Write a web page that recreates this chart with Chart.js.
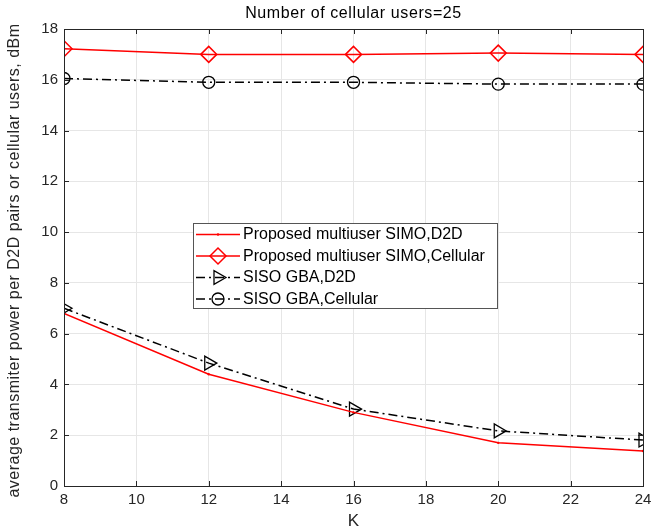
<!DOCTYPE html>
<html><head><meta charset="utf-8">
<script src="https://cdn.jsdelivr.net/npm/chart.js@4/dist/chart.umd.min.js"></script>
<style>html,body{margin:0;padding:0;background:#fff}#wrap{width:668px;height:531px}</style>
</head><body><div id="wrap"><canvas id="c" width="668" height="531"></canvas></div>
<script>
const K = [8, 12, 16, 20, 24];
const simoD2D = [6.8, 4.4, 2.9, 1.7, 1.38];
const simoCell = [17.22, 17.0, 17.0, 17.05, 17.0];
const sisoD2D = [7.0, 4.84, 3.03, 2.17, 1.81];
const sisoCell = [16.05, 15.9, 15.9, 15.83, 15.83];
const seriesNames = ['Proposed multiuser SIMO,D2D', 'Proposed multiuser SIMO,Cellular', 'SISO GBA,D2D', 'SISO GBA,Cellular'];
const titleText = 'Number of cellular users=25';
const xLabel = 'K';
const yLabel = 'average transmiter power per D2D pairs or cellular users, dBm';

const FONT = '"Liberation Sans", Arial, Helvetica, sans-serif';
const RED = '#ff0000', BLK = '#000000';
const DASHDOT = [9, 4, 2, 4];
const pts = arr => K.map((k, i) => ({x: k, y: arr[i]}));

const datasets = [
  {label: seriesNames[0], data: pts(simoD2D), borderColor: RED, backgroundColor: RED, borderWidth: 1.5, pointStyle: 'circle', pointRadius: 1.2, pointBorderWidth: 0, pointBackgroundColor: RED, pointBorderColor: RED},
  {label: seriesNames[1], data: pts(simoCell), borderColor: RED, borderWidth: 1.5, pointStyle: 'rectRot', pointRadius: 8, pointBorderWidth: 1.5, pointBackgroundColor: 'rgba(0,0,0,0)', pointBorderColor: RED},
  {label: seriesNames[2], data: pts(sisoD2D), borderColor: BLK, borderWidth: 1.5, borderDash: DASHDOT, pointStyle: 'triangle', pointRotation: 90, pointRadius: 8, pointBorderWidth: 1.3, pointBackgroundColor: 'rgba(0,0,0,0)', pointBorderColor: BLK},
  {label: seriesNames[3], data: pts(sisoCell), borderColor: BLK, borderWidth: 1.5, borderDash: DASHDOT, pointStyle: 'circle', pointRadius: 6, pointBorderWidth: 1.3, pointBackgroundColor: 'rgba(0,0,0,0)', pointBorderColor: BLK}
];

function spacedText(ctx, txt, x, y, spacing) {
  try { ctx.letterSpacing = spacing + 'px'; } catch (e) {}
  ctx.fillText(txt, x, y);
  try { ctx.letterSpacing = '0px'; } catch (e) {}
}

const boxPlugin = {
  id: 'boxPlugin',
  afterDraw(chart) {
    const ctx = chart.ctx, a = chart.chartArea;
    const xs = chart.scales.x, ys = chart.scales.y;
    ctx.save();
    ctx.strokeStyle = '#262626'; ctx.lineWidth = 1; ctx.setLineDash([]);
    ctx.strokeRect(a.left + 0.5, a.top + 0.5, a.right - a.left, a.bottom - a.top);
    ctx.beginPath();
    for (let v = 8; v <= 24; v += 2) {
      const px = Math.round(xs.getPixelForValue(v)) + 0.5;
      ctx.moveTo(px, a.bottom); ctx.lineTo(px, a.bottom - 5);
      ctx.moveTo(px, a.top); ctx.lineTo(px, a.top + 5);
    }
    for (let v = 0; v <= 18; v += 2) {
      const py = Math.round(ys.getPixelForValue(v)) + 0.5;
      ctx.moveTo(a.left, py); ctx.lineTo(a.left + 5, py);
      ctx.moveTo(a.right, py); ctx.lineTo(a.right - 5, py);
    }
    ctx.stroke();
    // title
    ctx.fillStyle = '#000'; ctx.font = '16px ' + FONT; ctx.textAlign = 'center'; ctx.textBaseline = 'middle';
    spacedText(ctx, titleText, (a.left + a.right) / 2, 14, 0.6);
    // axis labels
    ctx.fillStyle = '#262626';
    ctx.font = '17px ' + FONT;
    spacedText(ctx, xLabel, (a.left + a.right) / 2, 521, 0);
    ctx.save();
    ctx.translate(15, (a.top + a.bottom) / 2 + 3);
    ctx.rotate(-Math.PI / 2);
    ctx.font = '16px ' + FONT;
    spacedText(ctx, yLabel, 0, 0, 0.5);
    ctx.restore();
    // legend
    const L = 193, T = 223, W = 304, H = 85;
    ctx.fillStyle = '#fff'; ctx.fillRect(L, T, W, H);
    ctx.strokeStyle = '#555'; ctx.lineWidth = 1; ctx.strokeRect(L + 0.5, T + 0.5, W, H);
    const rows = [234.5, 256, 277.5, 299];
    datasets.forEach((d, i) => {
      const y = rows[i];
      ctx.strokeStyle = d.borderColor; ctx.lineWidth = 1.5;
      ctx.setLineDash(d.borderDash || []);
      ctx.beginPath(); ctx.moveTo(196, y); ctx.lineTo(240, y); ctx.stroke();
      ctx.setLineDash([]);
      ctx.strokeStyle = d.pointBorderColor;
      ctx.fillStyle = d.pointBackgroundColor;
      ctx.lineWidth = d.pointBorderWidth || 1;
      Chart.helpers.drawPoint(ctx, {pointStyle: d.pointStyle, rotation: d.pointRotation || 0, radius: d.pointRadius, borderWidth: d.pointBorderWidth}, 218, y);
      ctx.fillStyle = '#000'; ctx.font = '16px ' + FONT; ctx.textAlign = 'left'; ctx.textBaseline = 'middle';
      ctx.fillText(d.label, 243, y + 0.5);
    });
    ctx.restore();
  }
};

new Chart(document.getElementById('c'), {
  type: 'line',
  data: {datasets},
  options: {
    responsive: false, animation: false, devicePixelRatio: 1,
    layout: {padding: {left: 0, right: 25, top: 29, bottom: 0}},
    plugins: {legend: {display: false}, title: {display: false}, tooltip: {enabled: false}},
    elements: {line: {tension: 0}},
    scales: {
      x: {
        type: 'linear', min: 8, max: 24,
        ticks: {stepSize: 2, color: '#262626', font: {size: 15, family: FONT}, padding: 5, maxRotation: 0},
        grid: {color: '#e6e6e6', drawTicks: false},
        border: {color: '#262626'},
        afterFit(s) { s.height = 45; }
      },
      y: {
        min: 0, max: 18,
        ticks: {stepSize: 2, color: '#262626', font: {size: 15, family: FONT}, padding: 6},
        grid: {color: '#e6e6e6', drawTicks: false},
        border: {color: '#262626'},
        afterFit(s) { s.width = 64; }
      }
    }
  },
  plugins: [boxPlugin]
});
</script>
</body></html>
